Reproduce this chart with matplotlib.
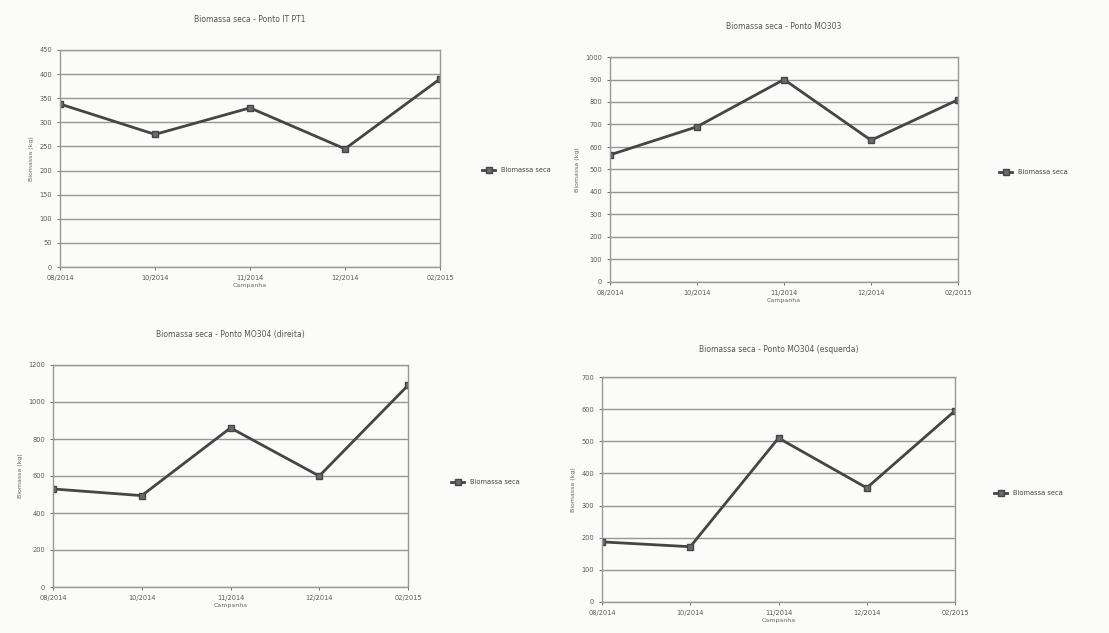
import matplotlib
matplotlib.use("Agg")
import matplotlib.pyplot as plt

# Campanhas (eixo x) e biomassa seca de cada ponto
campanhas = ["08/2014", "10/2014", "11/2014", "12/2014", "02/2015"]
it_pt1 = [338, 275, 330, 245, 390]
mo303 = [565, 690, 900, 630, 810]
mo304_dir = [530, 494, 860, 600, 1090]
mo304_esq = [187, 172, 510, 355, 595]

titles = ["Biomassa seca - Ponto IT PT1",
          "Biomassa seca - Ponto MO303",
          "Biomassa seca - Ponto MO304 (direita)",
          "Biomassa seca - Ponto MO304 (esquerda)"]
series = [it_pt1, mo303, mo304_dir, mo304_esq]
ymax = [450, 1000, 1200, 700]
ystep = [50, 100, 200, 100]

W, H = 1109, 633
# axes boxes in pixels: left, top, right, bottom
boxes = [(60, 50, 440, 267), (610, 57, 958, 282),
         (53, 365, 408, 587), (602, 377, 955, 602)]
title_pad = [20, 20, 20, 18]
legend_pos = [(476, 170), (993, 172), (445, 482), (988, 493)]

fig = plt.figure(figsize=(W / 100, H / 100), dpi=100)
fig.patch.set_facecolor("#fbfbfa")

for i in range(4):
    l, t, r, b = boxes[i]
    ax = fig.add_axes([l / W, 1 - b / H, (r - l) / W, (b - t) / H])
    ax.set_facecolor("#fbfbfa")
    ax.plot(range(len(campanhas)), series[i], color="#454545", lw=2.0,
            marker="s", ms=4, mfc="#6a6a6a", mec="#454545", label="Biomassa seca")
    ax.set_xlim(0, len(campanhas) - 1)
    ax.set_ylim(0, ymax[i])
    ax.set_yticks(range(0, ymax[i] + 1, ystep[i]))
    ax.set_xticks(range(len(campanhas)))
    ax.set_xticklabels(campanhas)
    ax.tick_params(labelsize=4.8, colors="#5a5a5a", length=2, width=0.6)
    ax.grid(axis="y", color="#959595", lw=1.0)
    for s in ax.spines.values():
        s.set_color("#999999")
        s.set_linewidth(1.0)
    ax.set_title(titles[i], fontsize=5.5, color="#555555", pad=title_pad[i])
    ax.set_xlabel("Campanha", fontsize=4.5, color="#666666", labelpad=2)
    ax.set_ylabel("Biomassa (kg)", fontsize=4.5, color="#666666", labelpad=4)
    lx, ly = legend_pos[i]
    ax.legend(loc="center left", bbox_to_anchor=(lx / W, 1 - ly / H),
              bbox_transform=fig.transFigure, frameon=False, fontsize=4.8,
              handlelength=2, labelcolor="#444444")

fig.savefig("out.png", dpi=100, facecolor=fig.get_facecolor())
